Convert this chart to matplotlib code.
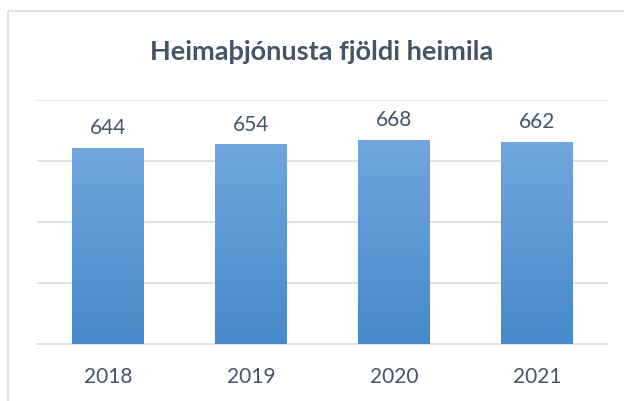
import numpy as np
import matplotlib
matplotlib.use('Agg')
from matplotlib import pyplot as plt
from matplotlib.patches import Rectangle

# data
years = ['2018', '2019', '2020', '2021']
households = [644, 654, 668, 662]
title = 'Heimaþjónusta fjöldi heimila'

text_color = '#44546A'
grid_color = '#D9DEE7'
bar_top = '#70A6DD'
bar_bottom = '#4689CA'

plt.rcParams['font.family'] = ['Lato', 'DejaVu Sans']

fig = plt.figure(figsize=(6.24, 4.01), dpi=100)
ax = fig.add_axes([0.0585, 0.141, 0.9165, 0.610])

# outer chart border (runs off the right and bottom edge)
fig.patches.append(Rectangle((7.5 / 624, -0.05), 1.1, 1 - 10.5 / 401 + 0.05,
                             transform=fig.transFigure, fill=False,
                             edgecolor=grid_color, linewidth=1.3))

x = np.arange(len(years))
bars = ax.bar(x, households, width=0.5, color='none', edgecolor='none', zorder=3)

# vertical gradient inside each bar
cmap = matplotlib.colors.LinearSegmentedColormap.from_list('g', [bar_bottom, bar_top])
grad = np.linspace(0, 1, 256).reshape(-1, 1)
for b in bars:
    x0, y0 = b.get_x(), b.get_y()
    img = ax.imshow(grad, cmap=cmap, origin='lower', aspect='auto',
                    extent=(x0, x0 + b.get_width(), y0, y0 + b.get_height()), zorder=3)
    img.set_clip_path(b)

for xi, v in zip(x, households):
    ax.annotate(str(v), (xi, v), xytext=(0, 7), textcoords='offset points',
                ha='center', va='bottom', fontsize=15, color=text_color)

ax.set_xlim(-0.5, len(years) - 0.5)
ax.set_ylim(0, 800)
ax.set_yticks([0, 200, 400, 600, 800])
ax.set_yticklabels([])
ax.yaxis.grid(True, color=grid_color, linewidth=1.3)
ax.set_axisbelow(True)
ax.tick_params(axis='y', length=0)
ax.set_xticks(x)
ax.set_xticklabels(years, fontsize=15, color=text_color)
ax.tick_params(axis='x', length=0, pad=16)
for s in ['top', 'right', 'left']:
    ax.spines[s].set_visible(False)
ax.spines['bottom'].set_color(grid_color)
ax.spines['bottom'].set_linewidth(1.3)

fig.text(0.516, 1 - 52 / 401, title, ha='center', va='center',
         fontsize=19.5, fontweight='bold', color=text_color)

fig.savefig('out.png', dpi=100)
